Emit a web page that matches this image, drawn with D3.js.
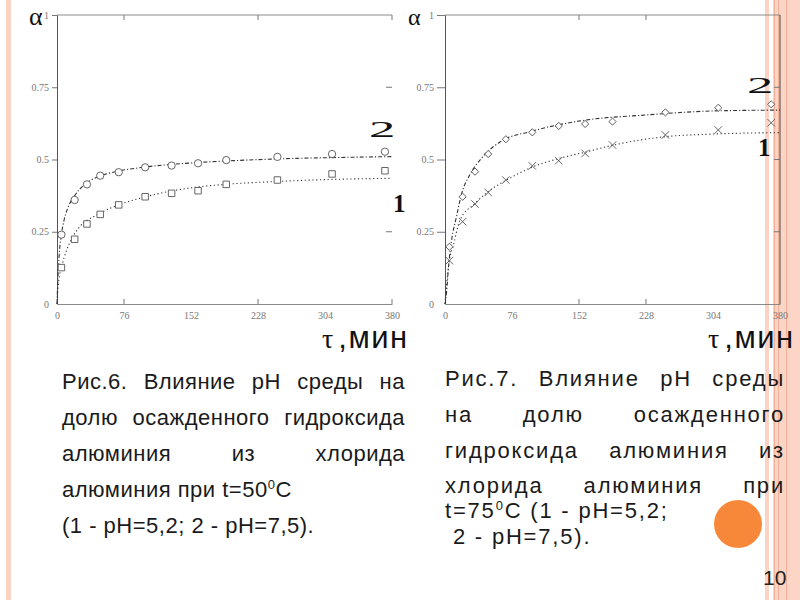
<!DOCTYPE html>
<html>
<head>
<meta charset="utf-8">
<script src="https://cdn.jsdelivr.net/npm/d3@7"></script>
<style>
  body { margin: 0; background: #fff; }
  svg { display: block; }
</style>
</head>
<body>
<svg id="slide" width="800" height="600"></svg>
<script>
// Axis ticks shared by both figures
const xTicks = [0, 76, 152, 228, 304, 380];
const yTicks = [0, 0.25, 0.5, 0.75, 1];

// Fig. 6, t = 50 C : measured points
const tFig6 = [5, 20, 34, 49, 70, 100, 130, 160, 192, 250, 312, 372];
const fig6pH52 = [0.126, 0.224, 0.277, 0.310, 0.343, 0.371, 0.383, 0.392, 0.414, 0.429, 0.450, 0.461];
const fig6pH75 = [0.240, 0.360, 0.414, 0.444, 0.456, 0.473, 0.479, 0.487, 0.498, 0.509, 0.519, 0.527];
// Fig. 6 fitted curves
const fitT6a = [0, 1, 3, 5, 8, 11, 17, 26, 45, 70, 98, 128, 160, 200, 250, 300, 380];
const fit6pH52 = [0, 0.05, 0.10, 0.125, 0.16, 0.187, 0.228, 0.268, 0.308, 0.343, 0.369, 0.39, 0.405, 0.416, 0.424, 0.43, 0.435];
const fitT6b = [0, 0.5, 1.5, 3, 5, 8, 12, 20, 32, 49, 70, 100, 152, 200, 260, 320, 380];
const fit6pH75 = [0, 0.05, 0.12, 0.19, 0.24, 0.29, 0.33, 0.375, 0.415, 0.443, 0.46, 0.474, 0.488, 0.496, 0.503, 0.507, 0.51];

// Fig. 7, t = 75 C : measured points
const tFig7 = [5, 20, 34, 49, 69, 99, 129, 159, 190, 250, 310, 370];
const fig7pH52 = [0.150, 0.285, 0.346, 0.386, 0.429, 0.478, 0.496, 0.521, 0.550, 0.585, 0.602, 0.627];
const fig7pH75 = [0.198, 0.371, 0.458, 0.519, 0.570, 0.594, 0.616, 0.623, 0.631, 0.663, 0.679, 0.691];
// Fig. 7 fitted curves
const fitT7a = [0, 1, 5, 9, 17, 34, 49, 70, 100, 130, 161, 191, 250, 304, 380];
const fit7pH52 = [0, 0.04, 0.152, 0.198, 0.29, 0.348, 0.389, 0.429, 0.475, 0.504, 0.527, 0.55, 0.579, 0.588, 0.593];
const fitT7b = [0, 2, 4, 7.5, 13, 19, 28, 43, 66, 96, 127, 161, 228, 304, 380];
const fit7pH75 = [0, 0.048, 0.129, 0.221, 0.302, 0.383, 0.446, 0.51, 0.567, 0.596, 0.619, 0.637, 0.654, 0.668, 0.671];

// Captions
const caption6 = [
  'Рис.6. Влияние рН среды на',
  'долю осажденного гидроксида',
  'алюминия из хлорида',
  'алюминия при t=50^0C',
  '(1 - рН=5,2; 2 - рН=7,5).'
];
const caption7 = [
  'Рис.7. Влияние рН среды',
  'на долю осажденного',
  'гидроксида алюминия из',
  'хлорида алюминия при',
  't=75^0C (1 - рН=5,2;',
  ' 2 - рН=7,5).'
];

const svg = d3.select('#slide');
svg.append('rect').attr('width', 800).attr('height', 600).attr('fill', '#fff');

// slide decoration stripes
const deco = svg.append('g');
deco.append('rect').attr('x', 6).attr('y', 0).attr('width', 5).attr('height', 600).attr('fill', '#fcd3c3');
deco.append('rect').attr('x', 765).attr('y', 0).attr('width', 4).attr('height', 600).attr('fill', '#fcd3c3');
deco.append('rect').attr('x', 773).attr('y', 0).attr('width', 27).attr('height', 600).attr('fill', '#fdd5c6');
[774.5, 778.5, 786.5].forEach((lx) => {
  deco.append('line').attr('x1', lx).attr('x2', lx).attr('y1', 0).attr('y2', 600)
    .attr('stroke', '#f3b096').attr('stroke-width', 1);
});

const yScale = d3.scaleLinear().domain([0, 1]).range([304, 15]);
const fmtY = (d) => String(d);

function drawChart(cfg) {
  const g = svg.append('g');
  const x = d3.scaleLinear().domain([0, 380]).range([cfg.x0, cfg.x1]);
  const y = yScale;

  // frame: top and right
  g.append('line').attr('x1', x(0)).attr('x2', x(380)).attr('y1', y(1)).attr('y2', y(1))
    .attr('stroke', '#8a8a8a');
  if (cfg.rightLine) {
    g.append('line').attr('x1', x(380)).attr('x2', x(380)).attr('y1', y(1)).attr('y2', y(0))
      .attr('stroke', '#444');
  }

  // left axis
  const ax = g.append('g').attr('transform', `translate(${x(0)},0)`)
    .call(d3.axisLeft(y).tickValues(yTicks).tickSize(cfg.tickLeft).tickSizeOuter(0).tickFormat(fmtY));
  ax.select('.domain').attr('stroke', '#555');
  ax.selectAll('.tick line').attr('stroke', '#777');
  ax.selectAll('.tick text').attr('font-family', 'Liberation Serif').attr('font-size', 10).attr('fill', '#777');
  ax.selectAll('.tick').filter((d) => d === 0).select('line').remove();

  // bottom axis
  const bx = g.append('g').attr('transform', `translate(0,${y(0)})`)
    .call(d3.axisBottom(x).tickValues(xTicks).tickSize(0).tickPadding(8).tickSizeOuter(0));
  bx.select('.domain').attr('stroke', '#888');
  bx.selectAll('.tick text').attr('font-family', 'Liberation Serif').attr('font-size', 10).attr('fill', '#777');

  // inner ticks
  g.selectAll('.bt').data(cfg.bottomTicks).join('line')
    .attr('x1', (d) => x(d)).attr('x2', (d) => x(d)).attr('y1', y(0)).attr('y2', y(0) - 5)
    .attr('stroke', '#777');
  g.selectAll('.tt').data(cfg.topTicks).join('line')
    .attr('x1', (d) => x(d)).attr('x2', (d) => x(d)).attr('y1', y(1)).attr('y2', y(1) + 5)
    .attr('stroke', '#777');
  g.selectAll('.rt').data(cfg.rightTicks).join('line')
    .attr('x1', x(380) - 6).attr('x2', x(380)).attr('y1', (d) => y(d)).attr('y2', (d) => y(d))
    .attr('stroke', '#777');

  // fitted curves
  const line = d3.line().x((d) => x(d[0])).y((d) => y(d[1])).curve(d3.curveMonotoneX);
  g.append('path').datum(d3.zip(cfg.fitTa, cfg.fitA))
    .attr('d', line).attr('fill', 'none').attr('stroke', '#333').attr('stroke-width', 1.1)
    .attr('stroke-dasharray', '1.2,2.6');
  g.append('path').datum(d3.zip(cfg.fitTb, cfg.fitB))
    .attr('d', line).attr('fill', 'none').attr('stroke', '#333').attr('stroke-width', 1.1)
    .attr('stroke-dasharray', '4,2,1.2,2');

  // points
  const drawPoints = (ts, vals, type, size, rot) => {
    g.selectAll(null).data(d3.zip(ts, vals)).join('path')
      .attr('transform', (d) => `translate(${x(d[0])},${y(d[1])}) rotate(${rot})`)
      .attr('d', d3.symbol().type(type).size(size))
      .attr('fill', type === d3.symbolTimes ? 'none' : '#fff')
      .attr('stroke', '#555').attr('stroke-width', 0.9);
  };
  drawPoints(cfg.t, cfg.a, cfg.symA, cfg.sizeA, cfg.rotA);
  drawPoints(cfg.t, cfg.b, cfg.symB, cfg.sizeB, cfg.rotB);

  // alpha label
  g.append('text').attr('x', cfg.alphaX).attr('y', 25)
    .attr('font-family', 'Liberation Serif').attr('font-size', cfg.alphaSize)
    .attr('fill', '#111').text('α');

  // series labels
  g.append('text').attr('transform', `translate(${cfg.lab2[0]},${cfg.lab2[1]}) scale(2.2,1)`)
    .attr('font-family', 'Liberation Serif').attr('font-size', 24).attr('fill', '#111').text('2');
  g.append('text').attr('x', cfg.lab1[0]).attr('y', cfg.lab1[1])
    .attr('font-family', 'Liberation Serif').attr('font-size', 25).attr('font-weight', 'bold')
    .attr('fill', '#111').text('1');

  // time axis label
  const tl = g.append('text').attr('x', cfg.tauX).attr('y', 348).attr('fill', '#111');
  tl.append('tspan').attr('font-family', 'Liberation Serif').attr('font-size', 28).text('τ');
  tl.append('tspan').attr('font-family', 'Liberation Sans').attr('font-size', 31)
    .attr('letter-spacing', 1.5).attr('dx', 5).text(',мин');
}

drawChart({
  x0: 57, x1: 392, rightLine: false, tickLeft: 5,
  bottomTicks: [76, 228, 380], topTicks: [76, 228, 380], rightTicks: [0.25, 0.75],
  t: tFig6, a: fig6pH52, b: fig6pH75,
  symA: d3.symbolSquare, sizeA: 42, rotA: 0,
  symB: d3.symbolCircle, sizeB: 42, rotB: 0,
  fitTa: fitT6a, fitA: fit6pH52, fitTb: fitT6b, fitB: fit6pH75,
  alphaX: 29, alphaSize: 26, lab2: [369, 137], lab1: [393, 212], tauX: 322
});

drawChart({
  x0: 445, x1: 780, rightLine: true, tickLeft: 8,
  bottomTicks: [152, 228], topTicks: [152, 228], rightTicks: [0.25, 0.5, 0.75],
  t: tFig7, a: fig7pH52, b: fig7pH75,
  symA: d3.symbolTimes, sizeA: 38, rotA: 0,
  symB: d3.symbolSquare, sizeB: 26, rotB: 45,
  fitTa: fitT7a, fitA: fit7pH52, fitTb: fitT7b, fitB: fit7pH75,
  alphaX: 408, alphaSize: 24, lab2: [747, 93], lab1: [758, 156], tauX: 708
});

// captions
function writeLine(g, str, x0, x1, y, justify) {
  if (justify) {
    const words = str.split(' ');
    const nodes = words.map((w) => g.append('text').attr('y', y).text(w));
    const widths = nodes.map((n) => n.node().getComputedTextLength());
    const gap = Math.max(6, (x1 - x0 - d3.sum(widths)) / (words.length - 1));
    let cx = x0;
    nodes.forEach((n, i) => { n.attr('x', cx); cx += widths[i] + gap; });
  } else {
    const t = g.append('text').attr('x', x0).attr('y', y).style('white-space', 'pre');
    const parts = str.split('^');
    t.append('tspan').text(parts[0]);
    if (parts.length > 1) {
      t.append('tspan').attr('font-size', 13).attr('dy', -8).text(parts[1][0]);
      t.append('tspan').attr('dy', 8).text(parts[1].slice(1));
    }
  }
}
function drawCaption(lines, x0, x1, ys, nJustify, spacing) {
  const g = svg.append('g').attr('font-family', 'Liberation Sans').attr('font-size', 22)
    .attr('letter-spacing', spacing).attr('fill', '#1a1a1a');
  lines.forEach((l, i) => writeLine(g, l, x0, x1, ys[i], i < nJustify));
}
drawCaption(caption6, 62, 405, [389, 425, 461, 497, 533], 3, 0.5);
drawCaption(caption7, 445, 785, [386, 422, 458, 493, 518, 544], 4, 1.8);

// orange bullet and page number
svg.append('circle').attr('cx', 738).attr('cy', 524).attr('r', 24).attr('fill', '#f7883a');
svg.append('text').attr('x', 763).attr('y', 585).attr('font-family', 'Liberation Sans')
  .attr('font-size', 21).attr('fill', '#222').text('10');
</script>
</body>
</html>
